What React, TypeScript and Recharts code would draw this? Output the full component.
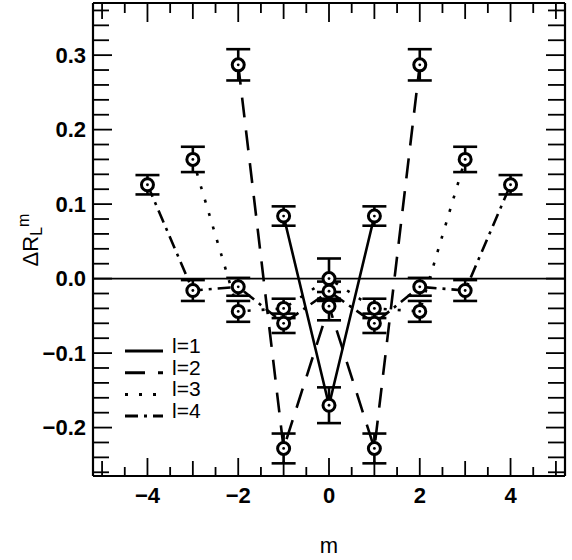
import React from "react"
import { ComposedChart, Line, XAxis, YAxis, ErrorBar, ReferenceLine, Legend } from "recharts"

// l = 1
const mL1 = [-1, 0, 1]
const valL1 = [0.084, -0.17, 0.084]
const errL1 = [0.013, 0.024, 0.013]

// l = 2
const mL2 = [-2, -1, 0, 1, 2]
const valL2 = [0.287, -0.228, -0.037, -0.228, 0.287]
const errL2 = [0.021, 0.02, 0.019, 0.02, 0.021]

// l = 3
const mL3 = [-3, -2, -1, 0, 1, 2, 3]
const valL3 = [0.16, -0.044, -0.04, 0.0, -0.04, -0.044, 0.16]
const errL3 = [0.017, 0.014, 0.013, 0.027, 0.013, 0.014, 0.017]

// l = 4
const mL4 = [-4, -3, -2, -1, 0, 1, 2, 3, 4]
const valL4 = [0.126, -0.016, -0.011, -0.06, -0.017, -0.06, -0.011, -0.016, 0.126]
const errL4 = [0.013, 0.014, 0.012, 0.013, 0.013, 0.013, 0.012, 0.014, 0.013]

const xTicks = [-5, -4.5, -4, -3.5, -3, -2.5, -2, -1.5, -1, -0.5, 0, 0.5, 1, 1.5, 2, 2.5, 3, 3.5, 4, 4.5, 5]
const xLabels = [-4, -2, 0, 2, 4]
const yTicks = [
  -0.26, -0.24, -0.22, -0.2, -0.18, -0.16, -0.14, -0.12, -0.1, -0.08, -0.06, -0.04, -0.02, 0, 0.02, 0.04, 0.06,
  0.08, 0.1, 0.12, 0.14, 0.16, 0.18, 0.2, 0.22, 0.24, 0.26, 0.28, 0.3, 0.32, 0.34, 0.36,
]
const yLabels = [-0.2, -0.1, 0, 0.1, 0.2, 0.3]

const toRows = (m: number[], v: number[], e: number[]) => m.map((mm, i) => ({ m: mm, v: v[i], e: e[i] }))

// the top/right axes mirror bottom/left (same domains), one series is bound to them so they get drawn
const series = [
  { name: "l=1", data: toRows(mL1, valL1, errL1), dash: undefined as string | undefined, xa: "bottom", ya: "left" },
  { name: "l=2", data: toRows(mL2, valL2, errL2), dash: "20 13", xa: "bottom", ya: "left" },
  { name: "l=3", data: toRows(mL3, valL3, errL3), dash: "3 11", xa: "bottom", ya: "left" },
  { name: "l=4", data: toRows(mL4, valL4, errL4), dash: "13 6 3 6", xa: "top", ya: "right" },
]

const FONT = "'Liberation Sans', Arial, Helvetica, sans-serif"
const fmt = (v: number, d: number) => (v < -1e-9 ? "\u2212" : "") + Math.abs(v).toFixed(d)
const near = (a: number, b: number) => Math.abs(a - b) < 1e-6
const TW = 1.8
const X_DOMAIN: [number, number] = [-5.2, 5.2]
const Y_DOMAIN: [number, number] = [-0.265, 0.37]

function BottomTick(props: any) {
  const { x, y, payload } = props
  const v = payload.value
  const lab = xLabels.some((l) => near(l, v))
  const len = lab ? 18 : near(v, Math.round(v)) ? 15 : 9
  return (
    <g>
      <line x1={x} y1={y} x2={x} y2={y - len} stroke="#000" strokeWidth={TW} />
      {lab && (
        <text x={x} y={y + 27} textAnchor="middle" fontFamily={FONT} fontWeight="bold" fontSize={22} fill="#000">
          {fmt(v, 0)}
        </text>
      )}
    </g>
  )
}

function TopTick(props: any) {
  const { x, y, payload } = props
  const v = payload.value
  const lab = xLabels.some((l) => near(l, v))
  const len = lab ? 19 : near(v, Math.round(v)) ? 16 : 10
  return <line x1={x} y1={y} x2={x} y2={y + len} stroke="#000" strokeWidth={TW} />
}

function LeftTick(props: any) {
  const { x, y, payload } = props
  const v = payload.value
  const lab = yLabels.some((l) => near(l, v))
  return (
    <g>
      <line x1={x} y1={y} x2={x + (lab ? 19 : 16)} y2={y} stroke="#000" strokeWidth={TW} />
      {lab && (
        <text x={x - 7} y={y + 7.5} textAnchor="end" fontFamily={FONT} fontWeight="bold" fontSize={22} fill="#000">
          {fmt(v, 1)}
        </text>
      )}
    </g>
  )
}

function RightTick(props: any) {
  const { x, y, payload } = props
  const lab = yLabels.some((l) => near(l, payload.value))
  return <line x1={x} y1={y} x2={x - (lab ? 19 : 17)} y2={y} stroke="#000" strokeWidth={TW} />
}

const renderDot = (p: any) => (
  <g key={`dot-${p.index}`}>
    <circle cx={p.cx} cy={p.cy} r={6} fill="#fff" stroke="#000" strokeWidth={3} />
    <circle cx={p.cx} cy={p.cy} r={1.4} fill="#000" />
  </g>
)

function LegendBox() {
  return (
    <svg width={110} height={95} style={{ display: "block" }}>
      {series.map((s, i) => {
        const base = 18 + i * 21.7
        return (
          <g key={s.name}>
            <line x1={7} x2={45} y1={base - 2} y2={base - 2} stroke="#000" strokeWidth={3} strokeDasharray={s.dash} />
            <text x={54} y={base} fontFamily={FONT} fontSize={21} fill="#000">
              {s.name}
            </text>
          </g>
        )
      })}
    </svg>
  )
}

export default function App() {
  return (
    <div style={{ position: "absolute", left: 0, top: 0, background: "#fff" }}>
      <ComposedChart width={572} height={560} margin={{ top: 2, right: 6, bottom: 0, left: 0 }}>
        <XAxis
          xAxisId="bottom"
          dataKey="m"
          type="number"
          domain={X_DOMAIN}
          allowDataOverflow
          ticks={xTicks}
          interval={0}
          height={84}
          tickSize={0}
          tickMargin={0}
          tickLine={false}
          axisLine={{ stroke: "#000", strokeWidth: 2.2 }}
          tick={<BottomTick />}
          label={{
            content: (p: any) => (
              <text
                x={p.viewBox.x + p.viewBox.width / 2}
                y={p.viewBox.y + 77}
                textAnchor="middle"
                fontFamily={FONT}
                fontSize={22}
                fill="#000"
              >
                m
              </text>
            ),
          }}
        />
        <XAxis
          xAxisId="top"
          orientation="top"
          type="number"
          dataKey="m"
          domain={X_DOMAIN}
          allowDataOverflow
          ticks={xTicks}
          interval={0}
          height={1}
          tickSize={0}
          tickMargin={0}
          tickLine={false}
          axisLine={{ stroke: "#000", strokeWidth: 2.2 }}
          tick={<TopTick />}
        />
        <YAxis
          yAxisId="left"
          type="number"
          domain={Y_DOMAIN}
          allowDataOverflow
          ticks={yTicks}
          interval={0}
          width={93}
          tickSize={0}
          tickMargin={0}
          tickLine={false}
          axisLine={{ stroke: "#000", strokeWidth: 2.2 }}
          tick={<LeftTick />}
          label={{
            content: () => (
              <text
                x={38}
                y={240}
                transform="rotate(-90 38 240)"
                textAnchor="middle"
                fontFamily={FONT}
                fontSize={22}
                fill="#000"
              >
                {"\u0394R"}
                <tspan dy={4} fontSize={16}>
                  L
                </tspan>
                <tspan dy={-13} fontSize={16}>
                  m
                </tspan>
              </text>
            ),
          }}
        />
        <YAxis
          yAxisId="right"
          orientation="right"
          type="number"
          domain={Y_DOMAIN}
          allowDataOverflow
          ticks={yTicks}
          interval={0}
          width={1}
          tickSize={0}
          tickMargin={0}
          tickLine={false}
          axisLine={{ stroke: "#000", strokeWidth: 2.2 }}
          tick={<RightTick />}
        />
        <ReferenceLine xAxisId="bottom" yAxisId="left" y={0} stroke="#000" strokeWidth={1.8} />
        {series.map((s) => (
          <Line
            key={s.name}
            name={s.name}
            xAxisId={s.xa}
            yAxisId={s.ya}
            data={s.data}
            dataKey="v"
            type="linear"
            stroke="#000"
            strokeWidth={2.6}
            strokeDasharray={s.dash}
            dot={renderDot}
            activeDot={false}
            isAnimationActive={false}
          >
            <ErrorBar dataKey="e" direction="y" width={12} stroke="#000" strokeWidth={2.6} />
          </Line>
        ))}
        <Legend
          layout="vertical"
          align="center"
          verticalAlign="middle"
          wrapperStyle={{ left: 118, top: 335, width: 110, height: 95 }}
          content={() => <LegendBox />}
        />
      </ComposedChart>
    </div>
  )
}
